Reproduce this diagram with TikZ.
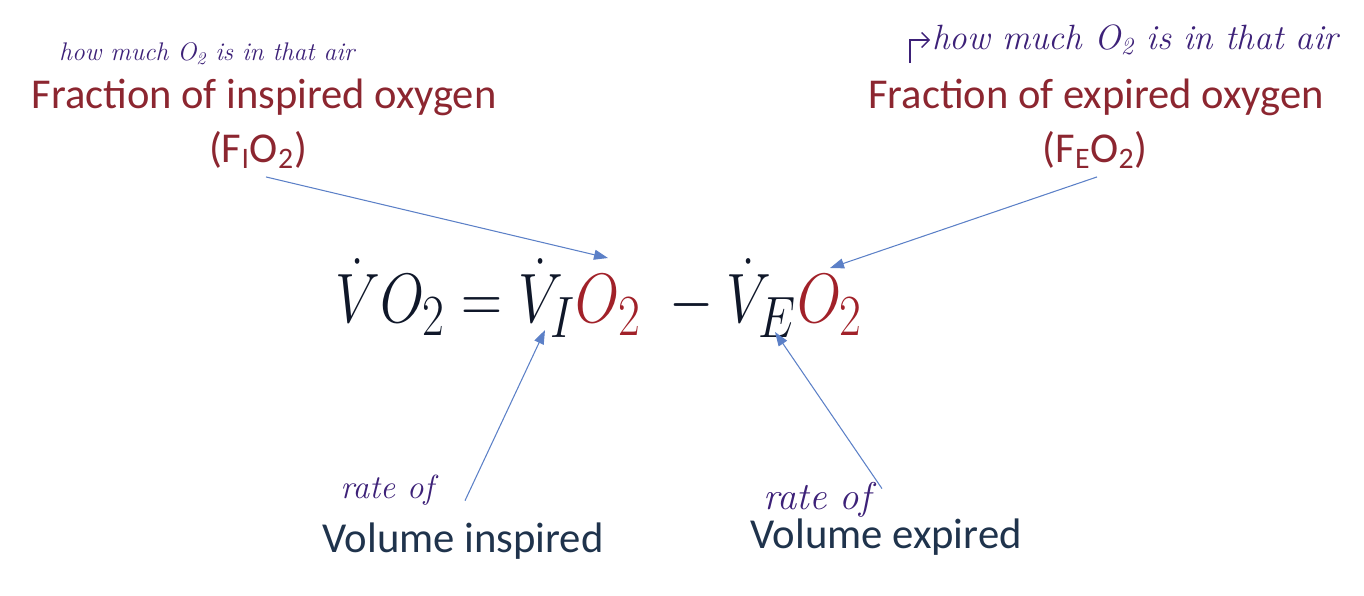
\documentclass[tikz,border=0pt]{standalone}
\usepackage{fontspec}
\newfontfamily\calibri{Carlito}
\usetikzlibrary{arrows.meta}
\definecolor{oxred}{rgb}{0.55,0.15,0.19}
\definecolor{eqred}{rgb}{0.63,0.13,0.16}
\definecolor{eqink}{rgb}{0.06,0.09,0.16}
\definecolor{penpurple}{rgb}{0.24,0.13,0.47}
\definecolor{arrowblue}{rgb}{0.36,0.50,0.78}
\definecolor{navytext}{rgb}{0.12,0.20,0.30}

\begin{document}
\begin{tikzpicture}[
  x=0.02cm, y=-0.02cm,
  >={Triangle[length=2.8mm, width=2mm]},
  fraclabel/.style={font=\calibri\fontsize{24.2}{30}\selectfont, text=oxred, inner sep=1pt},
  vollabel/.style={font=\calibri\fontsize{24.3}{28}\selectfont, text=navytext, inner sep=1pt},
  pen/.style={text=penpurple, inner sep=1pt},
  pointer/.style={->, arrowblue, line width=0.6pt},
]
\useasboundingbox (0,0) rectangle (1364,595);

% ---- top labels ----
\node[pen, font=\itshape\fontsize{14.5}{17}\selectfont] (hintI) at (207, 54) {how much O\textsubscript{2} is in that air};
\node[fraclabel] (fracI)  at (264, 97)  {Fraction of inspired oxygen};
\node[fraclabel] (fioI)   at (258, 150) {(F\textsubscript{I}O\textsubscript{2})};

\node[pen, font=\itshape\fontsize{20}{22}\selectfont, anchor=west] (hintE) at (930, 40) {how much O\textsubscript{2} is in that air};
\node[fraclabel] (fracE)  at (1096, 97) {Fraction of expired oxygen};
\node[fraclabel] (feoE)   at (1095, 150) {(F\textsubscript{E}O\textsubscript{2})};

% ---- the equation ----
\node[anchor=base, inner sep=0pt, xscale=1.3, yscale=1.6, transform shape, font=\Huge, text=eqink] (eqn) at (599, 322)
  {$\dot{V}O_2 = \dot{V}_I{\color{eqred}O_2}\;-\dot{V}_E{\color{eqred}O_2}$};

% ---- bottom labels ----
\node[pen, font=\itshape\fontsize{19}{21}\selectfont\addfontfeature{LetterSpace=6}] (rateI) at (387, 490) {rate of};
\node[vollabel]  (volI)  at (463, 541) {Volume inspired};
\node[pen, font=\itshape\fontsize{22}{24}\selectfont\addfontfeature{LetterSpace=6}] (rateE) at (817, 500) {rate of};
\node[vollabel]  (volE)  at (886, 537) {Volume expired};

% ---- arrow tips on the equation ----
\coordinate (tipFI) at (608, 258);
\coordinate (tipFE) at (830, 268);
\coordinate (tipVI) at (545, 330);
\coordinate (tipVE) at (775, 332);
\coordinate (penbend) at (910, 63);

% ---- pointers ----
\draw[pointer] (fioI.south) ++(8,6) -- (tipFI);
\draw[pointer] (feoE.south) ++(2,6) -- (tipFE);
\draw[pointer] (volI.north) ++(2,-20) -- (tipVI);
\draw[pointer] (volE.north) ++(-4,-28) -- (tipVE);
\draw[penpurple, line width=0.8pt, -{Straight Barb[length=1.5mm]}] (penbend) |- (hintE.west);

\end{tikzpicture}
\end{document}
